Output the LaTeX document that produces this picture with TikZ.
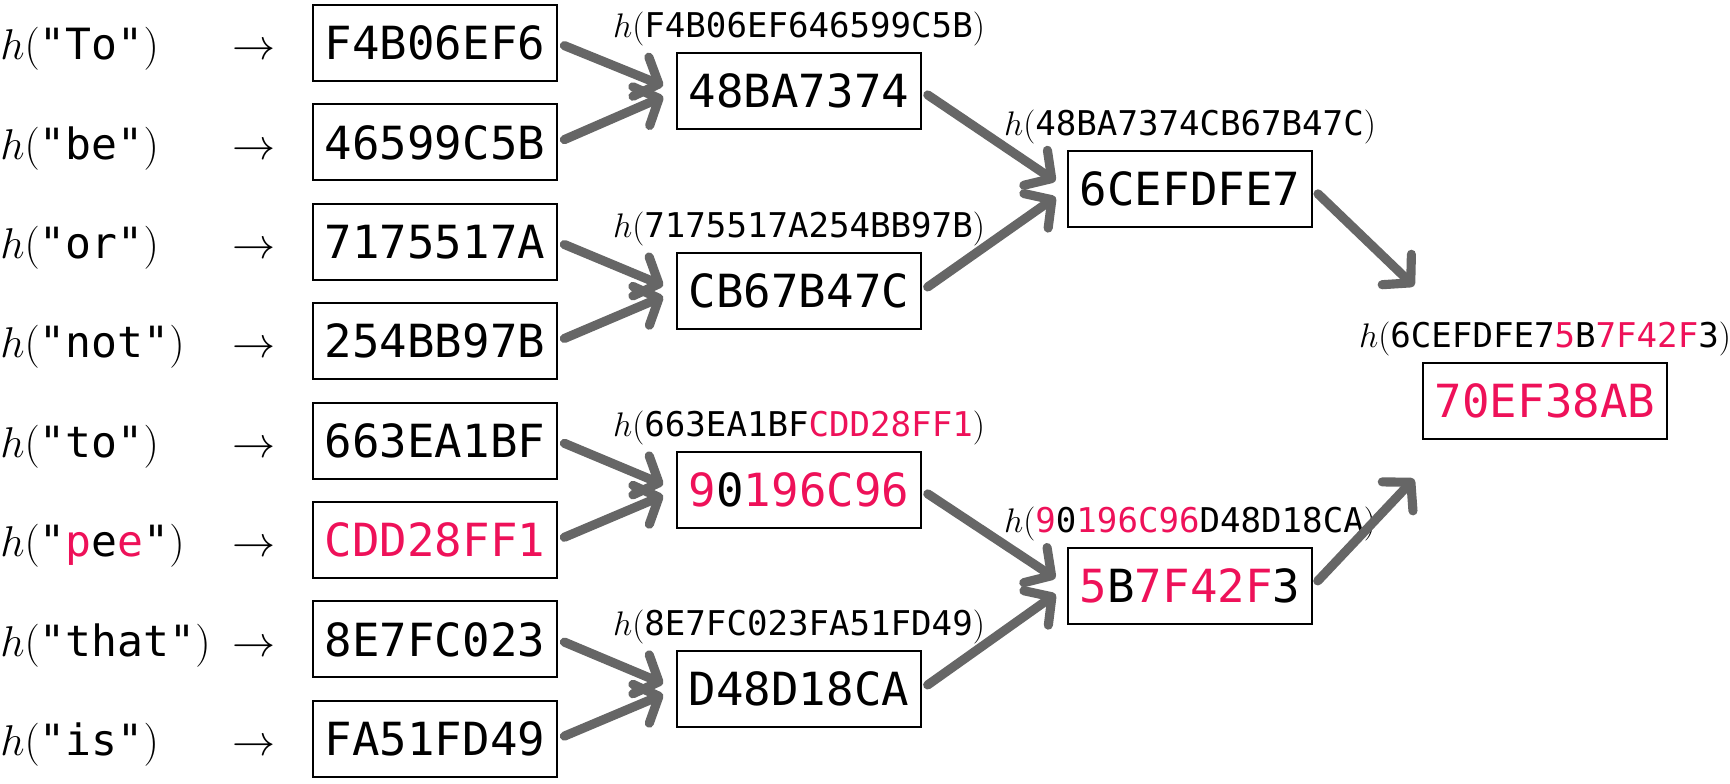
\documentclass[tikz,border=0pt]{standalone}
\usepackage{fix-cm}
\usepackage{fontspec}
\setmonofont{DejaVu Sans Mono}
\usepackage{tikz}
\usetikzlibrary{positioning,arrows.meta}

\definecolor{hashpink}{RGB}{238,17,89}
\definecolor{hashgray}{RGB}{102,102,102}
\newcommand{\pk}[1]{\textcolor{hashpink}{#1}}
\newcommand{\hexbig}{\fontsize{26}{31}\selectfont\ttfamily}
\newcommand{\hexsmall}{\fontsize{19.4}{23}\selectfont\ttfamily}
\newcommand{\wordsize}{\fontsize{24.5}{29}\selectfont\ttfamily}

\tikzset{
  hashbox/.style={draw, line width=1.1pt, minimum width=4.88cm, minimum height=1.52cm, inner sep=0pt, font=\hexbig},
  hashlabel/.style={inner sep=0pt, font=\hexsmall},
  wordtext/.style={inner sep=0pt, font=\wordsize},
  hasharrow/.style={hashgray, line width=5.2pt, line cap=round, -{Straight Barb[length=11pt, width=24pt, round]}, shorten <=0.14cm, shorten >=0.28cm}
}

\begin{document}
\begin{tikzpicture}
\useasboundingbox (0 cm, 0 cm) rectangle (34.6 cm, -15.66 cm);
\node[hashbox] (leaf_1) at (8.7 cm, -0.86 cm) {F4B06EF6};
\node[hashbox] (leaf_2) at (8.7 cm, -2.848 cm) {46599C5B};
\node[hashbox] (leaf_3) at (8.7 cm, -4.836 cm) {7175517A};
\node[hashbox] (leaf_4) at (8.7 cm, -6.824 cm) {254BB97B};
\node[hashbox] (leaf_5) at (8.7 cm, -8.812 cm) {663EA1BF};
\node[hashbox] (leaf_6) at (8.7 cm, -10.8 cm) {\pk{CDD28FF1}};
\node[hashbox] (leaf_7) at (8.7 cm, -12.788 cm) {8E7FC023};
\node[hashbox] (leaf_8) at (8.7 cm, -14.776 cm) {FA51FD49};
\node[wordtext, anchor=base west] (word_1) at (0,0 |- leaf_1.base) {$h($"To"$)$};
\node[wordtext, anchor=base west] (word_2) at (0,0 |- leaf_2.base) {$h($"be"$)$};
\node[wordtext, anchor=base west] (word_3) at (0,0 |- leaf_3.base) {$h($"or"$)$};
\node[wordtext, anchor=base west] (word_4) at (0,0 |- leaf_4.base) {$h($"not"$)$};
\node[wordtext, anchor=base west] (word_5) at (0,0 |- leaf_5.base) {$h($"to"$)$};
\node[wordtext, anchor=base west] (word_6) at (0,0 |- leaf_6.base) {$h($"\pk{p}e\pk{e}"$)$};
\node[wordtext, anchor=base west] (word_7) at (0,0 |- leaf_7.base) {$h($"that"$)$};
\node[wordtext, anchor=base west] (word_8) at (0,0 |- leaf_8.base) {$h($"is"$)$};
\node[wordtext, anchor=base east] (to_1) at ([xshift=-0.72cm]leaf_1.base west) {$\rightarrow$};
\node[wordtext, anchor=base east] (to_2) at ([xshift=-0.72cm]leaf_2.base west) {$\rightarrow$};
\node[wordtext, anchor=base east] (to_3) at ([xshift=-0.72cm]leaf_3.base west) {$\rightarrow$};
\node[wordtext, anchor=base east] (to_4) at ([xshift=-0.72cm]leaf_4.base west) {$\rightarrow$};
\node[wordtext, anchor=base east] (to_5) at ([xshift=-0.72cm]leaf_5.base west) {$\rightarrow$};
\node[wordtext, anchor=base east] (to_6) at ([xshift=-0.72cm]leaf_6.base west) {$\rightarrow$};
\node[wordtext, anchor=base east] (to_7) at ([xshift=-0.72cm]leaf_7.base west) {$\rightarrow$};
\node[wordtext, anchor=base east] (to_8) at ([xshift=-0.72cm]leaf_8.base west) {$\rightarrow$};
\node[hashbox] (mid_1) at (15.98 cm, -1.82 cm) {48BA7374};
\node[hashbox] (mid_2) at (15.98 cm, -5.82 cm) {CB67B47C};
\node[hashbox] (mid_3) at (15.98 cm, -9.80 cm) {\pk{9}0\pk{196C96}};
\node[hashbox] (mid_4) at (15.98 cm, -13.78 cm) {D48D18CA};
\node[hashlabel, above=0.11cm of mid_1] (mid_1_lbl) {$h($F4B06EF646599C5B$)$};
\node[hashlabel, above=0.11cm of mid_2] (mid_2_lbl) {$h($7175517A254BB97B$)$};
\node[hashlabel, above=0.11cm of mid_3] (mid_3_lbl) {$h($663EA1BF\pk{CDD28FF1}$)$};
\node[hashlabel, above=0.11cm of mid_4] (mid_4_lbl) {$h($8E7FC023FA51FD49$)$};
\node[hashbox] (top_1) at (23.8 cm, -3.78 cm) {6CEFDFE7};
\node[hashbox] (top_2) at (23.8 cm, -11.72 cm) {\pk{5}B\pk{7F42F}3};
\node[hashlabel, above=0.11cm of top_1] (top_1_lbl) {$h($48BA7374CB67B47C$)$};
\node[hashlabel, above=0.11cm of top_2] (top_2_lbl) {$h($\pk{9}0\pk{196C96}D48D18CA$)$};
\node[hashbox] (root) at (30.9 cm, -8.02 cm) {\pk{70EF38AB}};
\node[hashlabel, above=0.11cm of root] (root_lbl) {$h($6CEFDFE7\pk{5}B\pk{7F42F}3$)$};
\coordinate (root_in_a) at ([shift={(-0.16 cm, 1.52 cm)}]root.north west);
\coordinate (root_in_b) at ([shift={(-0.16 cm, -0.78 cm)}]root.south west);
\draw[hasharrow] (leaf_1.east) -- (mid_1.west);
\draw[hasharrow] (leaf_2.east) -- (mid_1.west);
\draw[hasharrow] (leaf_3.east) -- (mid_2.west);
\draw[hasharrow] (leaf_4.east) -- (mid_2.west);
\draw[hasharrow] (leaf_5.east) -- (mid_3.west);
\draw[hasharrow] (leaf_6.east) -- (mid_3.west);
\draw[hasharrow] (leaf_7.east) -- (mid_4.west);
\draw[hasharrow] (leaf_8.east) -- (mid_4.west);
\draw[hasharrow] (mid_1.east) -- (top_1.west);
\draw[hasharrow] (mid_2.east) -- (top_1.west);
\draw[hasharrow] (mid_3.east) -- (top_2.west);
\draw[hasharrow] (mid_4.east) -- (top_2.west);
\draw[hasharrow, shorten >=0pt] (top_1.east) -- (root_in_a);
\draw[hasharrow, shorten >=0pt] (top_2.east) -- (root_in_b);
\end{tikzpicture}
\end{document}
